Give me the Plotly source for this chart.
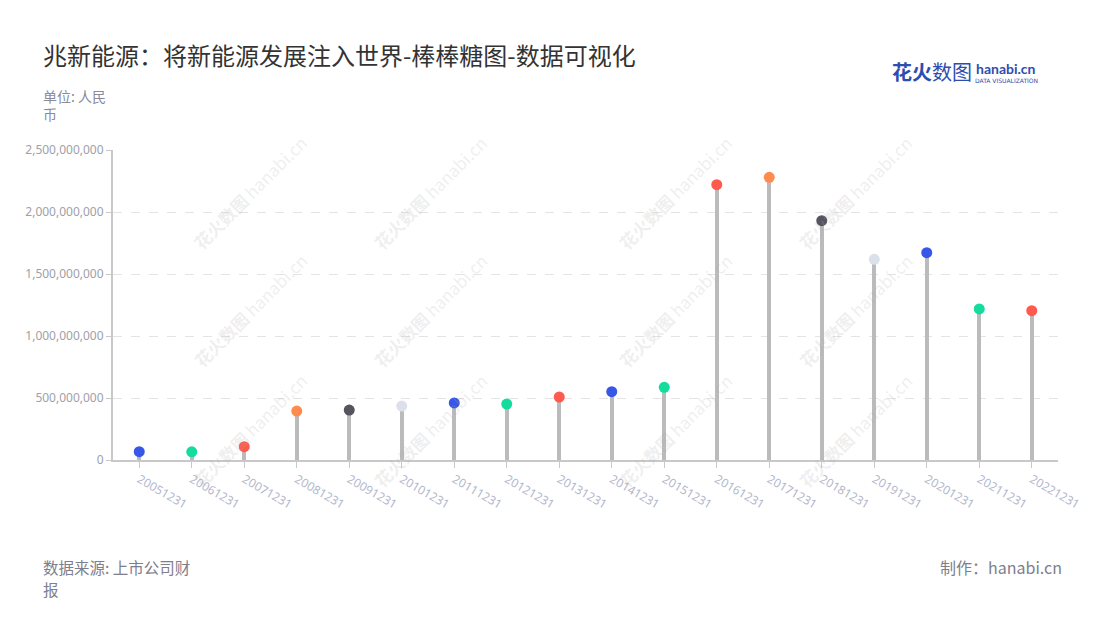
import plotly.graph_objects as go

dates = ["20051231", "20061231", "20071231", "20081231", "20091231", "20101231",
         "20111231", "20121231", "20131231", "20141231", "20151231", "20161231",
         "20171231", "20181231", "20191231", "20201231", "20211231", "20221231"]
values = [67e6, 66e6, 107e6, 395e6, 403e6, 435e6, 460e6, 451e6, 508e6, 551e6,
          586e6, 2220e6, 2280e6, 1930e6, 1618e6, 1672e6, 1218e6, 1204e6]
dot_colors = ["#3657E8", "#14DC9C", "#FF5A4E", "#FF8C4F", "#55545F", "#DCE0EB",
              "#3657E8", "#14DC9C", "#FF5A4E", "#3657E8", "#14DC9C", "#FF5A4E",
              "#FF8C4F", "#55545F", "#DCE0EB", "#3657E8", "#14DC9C", "#FF5A4E"]
y_ticks = [0, 500e6, 1000e6, 1500e6, 2000e6, 2500e6]

FONT = "Noto Sans CJK SC"

# page has an 8px body margin; lay out in page pixel coords
OFF = 8
W, H = 1100 - OFF, 620 - OFF
L, R, T, B = 113 - OFF, 42, 150 - OFF, 160
pw, ph = W - L - R, H - T - B


def pp(px, py):
    return (px - OFF - L) / pw, (H - B - (py - OFF)) / ph


def text_at(px, py, text, size, color, anchor="left", family=FONT):
    x, y = pp(px, py)
    fig.add_annotation(x=x, y=y, xref="paper", yref="paper", xanchor=anchor, yanchor="middle",
                       text=text, showarrow=False, borderpad=0,
                       font=dict(family=family, size=size, color=color))


fig = go.Figure()
fig.add_trace(go.Bar(x=dates, y=values, width=0.075, marker=dict(color="#BBBBBB", line_width=0),
                     hoverinfo="skip"))
fig.add_trace(go.Scatter(x=dates, y=values, mode="markers",
                         marker=dict(color=dot_colors, size=11, line_width=0)))

# watermarks
wm_x = [185, 430, 675, 920]
wm_y = [128, 310, 495]
for wx in wm_x:
    for wy in wm_y:
        x, y = pp(wx, wy)
        fig.add_annotation(x=x, y=y, xref="paper", yref="paper", text="<b>花火数图</b> hanabi.cn",
                           showarrow=False, textangle=-45,
                           font=dict(family=FONT, size=17, color="rgba(170,170,170,0.2)"))

text_at(42, 54, "兆新能源：将新能源发展注入世界-棒棒糖图-数据可视化", 24, "#333333")
text_at(42, 96, "单位: 人民", 14, "#8A8A99")
text_at(42, 114, "币", 14, "#8A8A99")
text_at(42, 567, "数据来源: 上市公司财", 15.5, "#7E7E8C")
text_at(42, 589, "报", 15.5, "#7E7E8C")
text_at(1063, 567, "制作：hanabi.cn", 16, "#7E7E8C", anchor="right")
# logo
text_at(891, 72, "<b>花火</b>数图", 20, "#2D4DB0")
text_at(975, 68, "<b>hanabi.cn</b>", 14, "#2D4DB0", family="Lato")
text_at(974, 80, "DATA VISUALIZATION", 6, "#2D4DB0", family="DejaVu Sans")

fig.update_layout(
    width=W, height=H,
    margin=dict(l=L, r=R, t=T, b=B),
    paper_bgcolor="white", plot_bgcolor="white",
    showlegend=False, bargap=0,
    font=dict(family=FONT),
    xaxis=dict(type="category", range=[-0.5, len(dates) - 0.5], tickangle=30,
               showgrid=False, showline=True, linecolor="#C8C8C8", linewidth=2,
               ticks="outside", ticklen=6, tickcolor="#C8C8C8", tickwidth=1,
               tickfont=dict(family="Noto Sans", size=12, color="#B4B8CC")),
    yaxis=dict(range=[0, 2.5e9], tickvals=y_ticks, tickformat=",",
               showgrid=True, gridcolor="#E4E4E4", griddash="dash", gridwidth=1,
               showline=True, linecolor="#C8C8C8", linewidth=2, zeroline=False,
               ticks="outside", ticklen=5, tickcolor="#C8C8C8",
               tickfont=dict(family="Noto Sans", size=12, color="#A0A0A8")),
)

fig.write_html("out.html")
